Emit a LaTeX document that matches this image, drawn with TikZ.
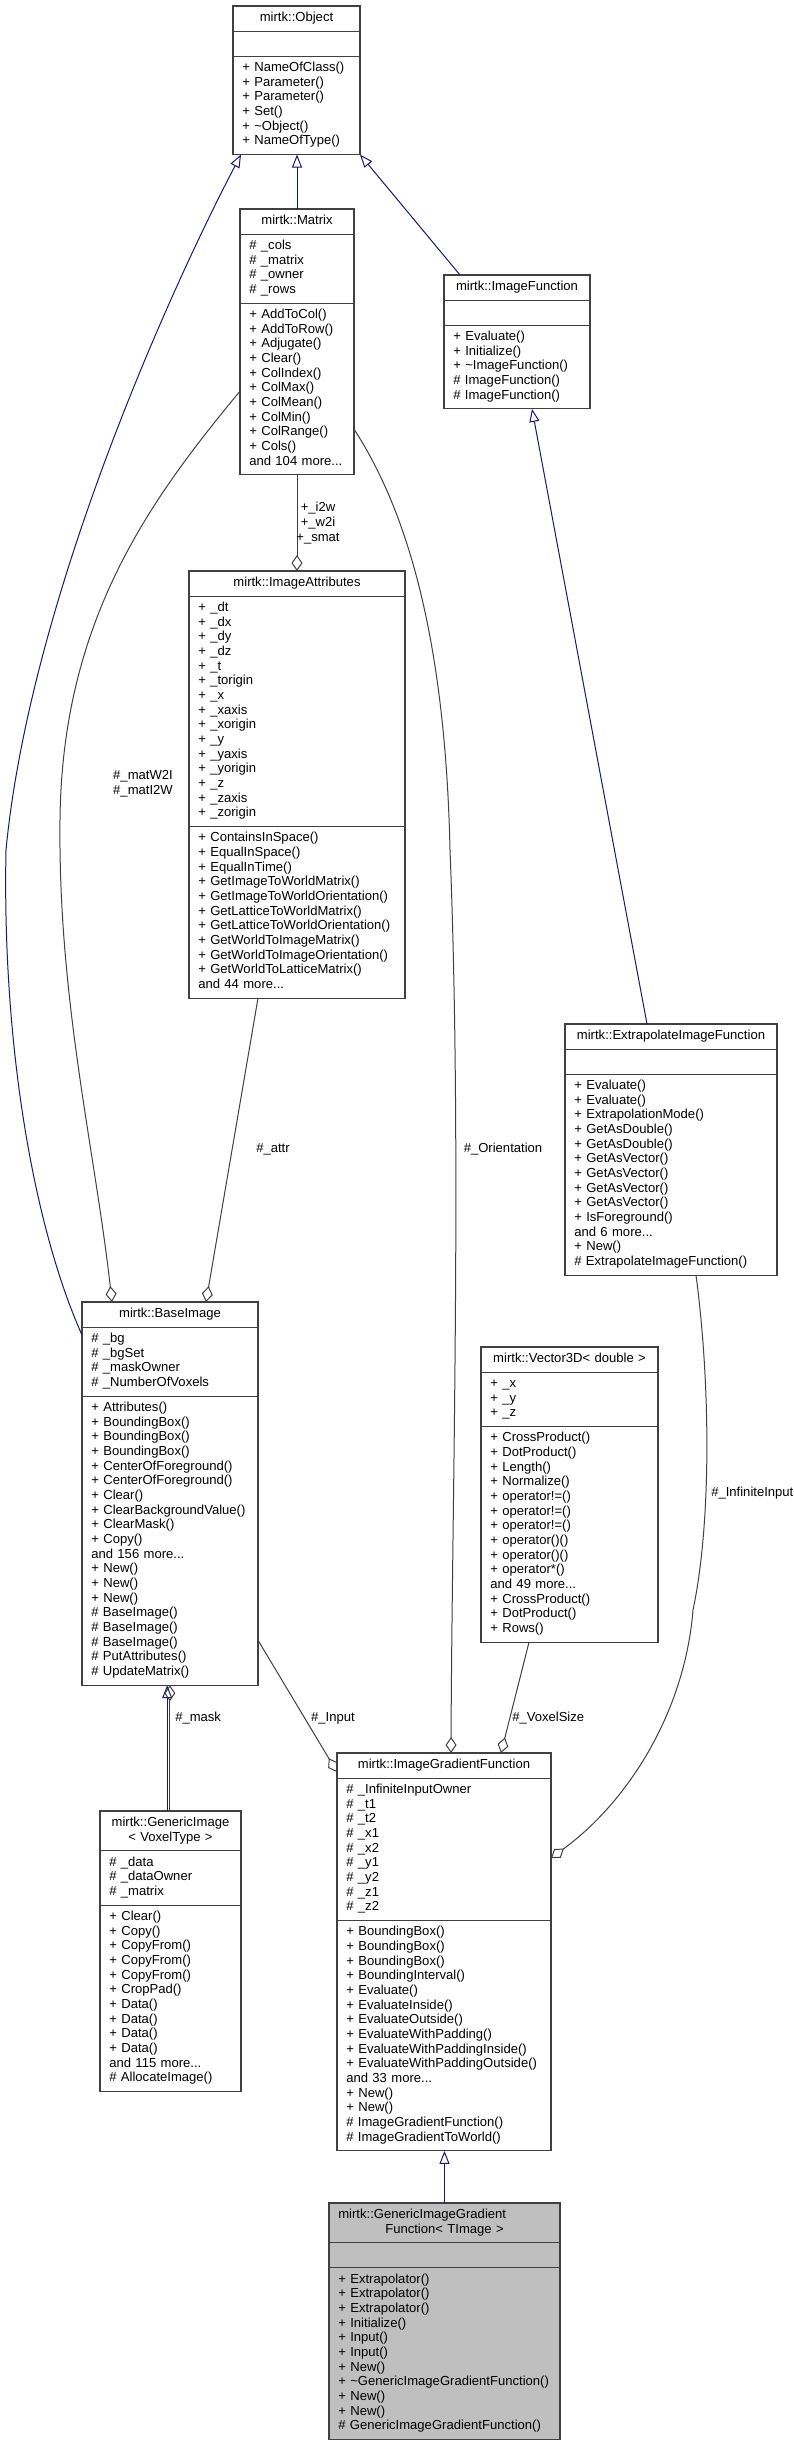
\documentclass[tikz,border=0pt]{standalone}
\usepackage{fontspec}
\setmainfont{Liberation Sans}
\usetikzlibrary{positioning, arrows.meta, calc}
\definecolor{inhblue}{HTML}{191970}
\definecolor{agggray}{HTML}{404040}
\definecolor{hilite}{HTML}{BFBFBF}
\newcommand{\umlfont}{\fontsize{9.8pt}{11pt}\selectfont}

\begin{document}
\begin{tikzpicture}[
  x=0.75pt, y=-0.75pt,
  every node/.style={font=\umlfont},
  cls/.style={draw=agggray, line width=0.8pt, fill=white, outer sep=0pt,
    inner xsep=7pt, inner ysep=3.9pt, text width=#1,
    execute at begin node=\strut, execute at end node=\strut},
  ctitle/.style={cls=#1, align=center, anchor=north west},
  cpart/.style={cls=#1, align=left},
  inh/.style={draw=inhblue, line width=0.75pt, -{Triangle[open, length=9.75pt, width=7.5pt]}},
  agg/.style={draw=agggray, line width=0.75pt, -{Diamond[open, length=12pt, width=8.25pt]}},
  elabel/.style={align=center, inner sep=0pt}
]
\useasboundingbox (0,0) rectangle (793,2448);

% classes
\node[ctitle=81.25pt] (obj) at (233,6) {mirtk::Object};
\node[cpart=81.25pt, below=0pt of obj] (objA) {};
\node[cpart=81.25pt, below=0pt of objA] (objO) {+ NameOfClass()\\+ Parameter()\\+ Parameter()\\+ Set()\\+ \textasciitilde Object()\\+ NameOfType()};

\node[ctitle=71.5pt] (mat) at (240,209) {mirtk::Matrix};
\node[cpart=71.5pt, below=0pt of mat] (matA) {\# \_cols\\\# \_matrix\\\# \_owner\\\# \_rows};
\node[cpart=71.5pt, below=0pt of matA] (matO) {+ AddToCol()\\+ AddToRow()\\+ Adjugate()\\+ Clear()\\+ ColIndex()\\+ ColMax()\\+ ColMean()\\+ ColMin()\\+ ColRange()\\+ Cols()\\and 104 more...};

\node[ctitle=95.5pt] (imgf) at (444,275) {mirtk::ImageFunction};
\node[cpart=95.5pt, below=0pt of imgf] (imgfA) {};
\node[cpart=95.5pt, below=0pt of imgfA] (imgfO) {+ Evaluate()\\+ Initialize()\\+ \textasciitilde ImageFunction()\\\# ImageFunction()\\\# ImageFunction()};

\node[ctitle=148pt] (iattr) at (189,571) {mirtk::ImageAttributes};
\node[cpart=148pt, below=0pt of iattr] (iattrA) {+ \_dt\\+ \_dx\\+ \_dy\\+ \_dz\\+ \_t\\+ \_torigin\\+ \_x\\+ \_xaxis\\+ \_xorigin\\+ \_y\\+ \_yaxis\\+ \_yorigin\\+ \_z\\+ \_zaxis\\+ \_zorigin};
\node[cpart=148pt, below=0pt of iattrA] (iattrO) {+ ContainsInSpace()\\+ EqualInSpace()\\+ EqualInTime()\\+ GetImageToWorldMatrix()\\+ GetImageToWorldOrientation()\\+ GetLatticeToWorldMatrix()\\+ GetLatticeToWorldOrientation()\\+ GetWorldToImageMatrix()\\+ GetWorldToImageOrientation()\\+ GetWorldToLatticeMatrix()\\and 44 more...};

\node[ctitle=145pt] (eif) at (565,1024) {mirtk::ExtrapolateImageFunction};
\node[cpart=145pt, below=0pt of eif] (eifA) {};
\node[cpart=145pt, below=0pt of eifA] (eifO) {+ Evaluate()\\+ Evaluate()\\+ ExtrapolationMode()\\+ GetAsDouble()\\+ GetAsDouble()\\+ GetAsVector()\\+ GetAsVector()\\+ GetAsVector()\\+ GetAsVector()\\+ IsForeground()\\and 6 more...\\+ New()\\\# ExtrapolateImageFunction()};

\node[ctitle=118pt] (bimg) at (82,1302) {mirtk::BaseImage};
\node[cpart=118pt, below=0pt of bimg] (bimgA) {\# \_bg\\\# \_bgSet\\\# \_maskOwner\\\# \_NumberOfVoxels};
\node[cpart=118pt, below=0pt of bimgA] (bimgO) {+ Attributes()\\+ BoundingBox()\\+ BoundingBox()\\+ BoundingBox()\\+ CenterOfForeground()\\+ CenterOfForeground()\\+ Clear()\\+ ClearBackgroundValue()\\+ ClearMask()\\+ Copy()\\and 156 more...\\+ New()\\+ New()\\+ New()\\\# BaseImage()\\\# BaseImage()\\\# BaseImage()\\\# PutAttributes()\\\# UpdateMatrix()};

\node[ctitle=118.75pt] (vec) at (481,1347) {mirtk::Vector3D< double >};
\node[cpart=118.75pt, below=0pt of vec] (vecA) {+ \_x\\+ \_y\\+ \_z};
\node[cpart=118.75pt, below=0pt of vecA] (vecO) {+ CrossProduct()\\+ DotProduct()\\+ Length()\\+ Normalize()\\+ operator!=()\\+ operator!=()\\+ operator!=()\\+ operator()()\\+ operator()()\\+ operator*()\\and 49 more...\\+ CrossProduct()\\+ DotProduct()\\+ Rows()};

\node[ctitle=91.75pt] (gimg) at (100,1811) {mirtk::GenericImage\\< VoxelType >};
\node[cpart=91.75pt, below=0pt of gimg] (gimgA) {\# \_data\\\# \_dataOwner\\\# \_matrix};
\node[cpart=91.75pt, below=0pt of gimgA] (gimgO) {+ Clear()\\+ Copy()\\+ CopyFrom()\\+ CopyFrom()\\+ CopyFrom()\\+ CropPad()\\+ Data()\\+ Data()\\+ Data()\\+ Data()\\and 115 more...\\\# AllocateImage()};

\node[ctitle=146.5pt] (igf) at (337,1753) {mirtk::ImageGradientFunction};
\node[cpart=146.5pt, below=0pt of igf] (igfA) {\# \_InfiniteInputOwner\\\# \_t1\\\# \_t2\\\# \_x1\\\# \_x2\\\# \_y1\\\# \_y2\\\# \_z1\\\# \_z2};
\node[cpart=146.5pt, below=0pt of igfA] (igfO) {+ BoundingBox()\\+ BoundingBox()\\+ BoundingBox()\\+ BoundingInterval()\\+ Evaluate()\\+ EvaluateInside()\\+ EvaluateOutside()\\+ EvaluateWithPadding()\\+ EvaluateWithPaddingInside()\\+ EvaluateWithPaddingOutside()\\and 33 more...\\+ New()\\+ New()\\\# ImageGradientFunction()\\\# ImageGradientToWorld()};

\node[ctitle=159.25pt, fill=hilite] (gigf) at (329,2203) {mirtk::GenericImageGradient\hfill\null\\Function< TImage >};
\node[cpart=159.25pt, fill=hilite, below=0pt of gigf] (gigfA) {};
\node[cpart=159.25pt, fill=hilite, below=0pt of gigfA] (gigfO) {+ Extrapolator()\\+ Extrapolator()\\+ Extrapolator()\\+ Initialize()\\+ Input()\\+ Input()\\+ New()\\+ \textasciitilde GenericImageGradientFunction()\\+ New()\\+ New()\\\# GenericImageGradientFunction()};

% inheritance
\draw[inh] ($(bimg.north west)+(0,33)$) .. controls (35,1230) and (2,1050) .. (6,850)
  .. controls (30,600) and (170,290) .. ($(objO.south west)+(8,0)$);
\draw[inh] (mat.north) -- (mat.north |- objO.south);
\draw[inh] ($(imgf.north west)+(16,0)$) -- (objO.south east);
\draw[inh] ($(eif.north west)+(82,0)$) -- ($(imgfO.south west)+(88,0)$);
\draw[inh] ([xshift=-2.5pt]gimg.north) -- ([xshift=-2.5pt]gimg.north |- bimgO.south);
\draw[inh] (gigf.north) -- (gigf.north |- igfO.south);

% members
\draw[agg] (matO.south) -- (matO.south |- iattr.north);
\draw[agg] ($(matO.north west)+(0,88)$) .. controls (150,500) and (62,620) .. (60,820)
  .. controls (58,1000) and (95,1150) .. ($(bimg.north west)+(30,0)$);
\draw[agg] ($(iattrO.south west)+(69,0)$) -- ($(bimg.north west)+(124,0)$);
\draw[agg] ($(matO.north east)+(0,126)$) .. controls (400,500) and (445,620) .. (450,850)
  .. controls (462,1150) and (452,1500) .. ($(igf.north west)+(114,0)$);
\draw[agg] ($(eifO.south west)+(131,0)$) .. controls (710,1380) and (712,1520) .. (693,1610)
  .. controls (685,1710) and (630,1800) .. ($(igfA.north east)+(0,80)$);
\draw[agg] ([xshift=-0.5pt]gimg.north) -- ([xshift=-0.5pt]gimg.north |- bimgO.south);
\draw[agg] ($(bimgO.south east)+(0,-45)$) -- ($(igf.north west)+(0,19)$);
\draw[agg] ($(vecO.south west)+(48,0)$) -- ($(igf.north west)+(164,0)$);

% labels
\node[elabel] (lsmat) at (318,523) {+\_i2w\\+\_w2i\\+\_smat};
\node[elabel] (lmatw) at (143,784) {\#\_matW2I\\\#\_matI2W};
\node[elabel] (lattr) at (273,1149) {\#\_attr};
\node[elabel] (lorient) at (503,1149) {\#\_Orientation};
\node[elabel, anchor=west] (linf) at (711,1493) {\#\_InfiniteInput};
\node[elabel, anchor=west] (lmask) at (175,1718) {\#\_mask};
\node[elabel] (linput) at (333,1718) {\#\_Input};
\node[elabel, anchor=west] (lvox) at (512,1718) {\#\_VoxelSize};
\end{tikzpicture}
\end{document}
